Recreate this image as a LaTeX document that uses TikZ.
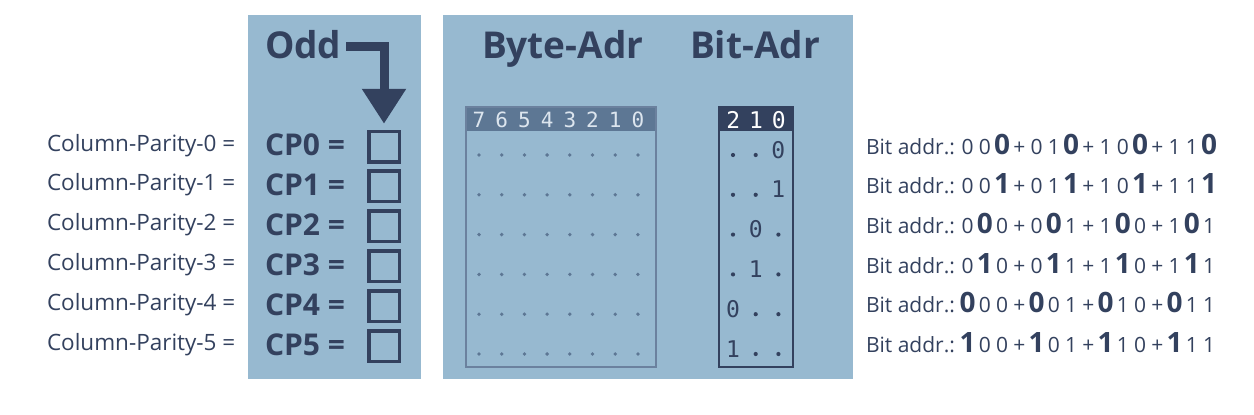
\documentclass[tikz,border=0pt]{standalone}
\usepackage{fontspec}
\setmainfont{Open Sans}
\newfontfamily\monofont{DejaVu Sans Mono}
\usetikzlibrary{arrows.meta}
\definecolor{panel}{HTML}{97B9D0}
\definecolor{navy}{HTML}{33415E}
\definecolor{bytehead}{HTML}{5D7794}
\definecolor{byteline}{HTML}{6B819E}
\definecolor{headtxt}{HTML}{DCE5EE}
\newcommand{\rd}[1]{\makebox[17.25pt]{#1}}
\newcommand{\bd}[1]{\makebox[17.25pt]{\fontsize{28}{28}\selectfont\bfseries #1}}
\begin{document}
\begin{tikzpicture}[x=1pt,y=-1pt,
  every node/.style={inner sep=0pt,outer sep=0pt,text=navy},
  lbl/.style={anchor=base west,font=\fontsize{22.5}{26}\selectfont},
  cplbl/.style={anchor=base west,font=\fontsize{30}{34}\selectfont\bfseries},
  head/.style={anchor=base west,font=\fontsize{37}{40}\selectfont\bfseries},
  cbox/.style={draw=navy,line width=3.5pt,minimum size=30.5pt},
  bitlbl/.style={anchor=base west,font=\fontsize{21}{24}\selectfont},
  monohead/.style={anchor=base,font=\monofont\fontsize{21}{24}\selectfont},
  monodig/.style={anchor=base,font=\monofont\fontsize{23}{26}\selectfont,text=navy}]
\useasboundingbox (0,0) rectangle (1254,415);
\fill[white] (0,0) rectangle (1254,415);
% panels
\fill[panel] (248,15) rectangle (421,379);
\fill[panel] (443,15) rectangle (853,379);
% headings
\node[head] (odd) at (265,58) {Odd};
\node[head] (byteadr) at (482,58) {Byte-Adr};
\node[head] (bitadr) at (690,58) {Bit-Adr};
% rows
\foreach \i in {0,...,5}{
  \node[lbl] (cpl\i) at (47,{151+39.9*\i}) {Column-Parity-\i\ =};
  \node[cplbl] (cp\i) at (265,{155.7+39.9*\i}) {CP\i\ =};
  \node[cbox] (box\i) at (384,{146.5+39.9*\i}) {};
}
% arrow
\draw[navy,line width=9pt,line join=miter,shorten >=7.5pt,-{Triangle[width=42pt,length=35pt]}]
  ([shift={(5,2)}]odd.east) -| (box0.north);
% byte table
\fill[bytehead] (466,107) rectangle (656,131);
\draw[byteline,line width=2pt] (466,107) rectangle (656,367);
\node[monohead,text=headtxt] (bytehdr) at (558.5,127.3) {\makebox[0pt]{\makebox[22.7pt]{7}\makebox[22.7pt]{6}\makebox[22.7pt]{5}\makebox[22.7pt]{4}\makebox[22.7pt]{3}\makebox[22.7pt]{2}\makebox[22.7pt]{1}\makebox[22.7pt]{0}}};
\foreach \r in {0,...,5}{
  \foreach \c in {0,...,7}{
    \fill[bytehead] ({479+22.7*\c},{155+39.8*\r}) circle (1.9pt);
  }
}
% bit table
\fill[navy] (719,107) rectangle (793,131);
\draw[navy,line width=2pt] (719,107) rectangle (793,367);
\node[monodig,text=white] (bithdr) at (756,128) {\makebox[0pt]{\makebox[22.7pt]{2}\makebox[22.7pt]{1}\makebox[22.7pt]{0}}};
% bit rows
\foreach \r/\pos/\d in {0/2/0,1/2/1,2/1/0,3/1/1,4/0/0,5/0/1}{
  \foreach \c in {0,1,2}{
    \ifnum\c=\pos
      \node[monodig] at ({733+22.7*\c},{158+39.8*\r}) {\d};
    \else
      \fill[navy] ({733+22.7*\c},{155+39.8*\r}) circle (2.1pt);
    \fi
  }
}
% bit addr lines
\foreach \i in {0,...,5}{
  \node[bitlbl] (ba\i) at (866,{154+39.7*\i}) {Bit addr.:};
}
\node[bitlbl] (bits0) at (959,154) {\rd{0}\rd{0}\bd{0}\rd{+}\rd{0}\rd{1}\bd{0}\rd{+}\rd{1}\rd{0}\bd{0}\rd{+}\rd{1}\rd{1}\bd{0}};
\node[bitlbl] (bits1) at (959,193.7) {\rd{0}\rd{0}\bd{1}\rd{+}\rd{0}\rd{1}\bd{1}\rd{+}\rd{1}\rd{0}\bd{1}\rd{+}\rd{1}\rd{1}\bd{1}};
\node[bitlbl] (bits2) at (959,233.4) {\rd{0}\bd{0}\rd{0}\rd{+}\rd{0}\bd{0}\rd{1}\rd{+}\rd{1}\bd{0}\rd{0}\rd{+}\rd{1}\bd{0}\rd{1}};
\node[bitlbl] (bits3) at (959,273.1) {\rd{0}\bd{1}\rd{0}\rd{+}\rd{0}\bd{1}\rd{1}\rd{+}\rd{1}\bd{1}\rd{0}\rd{+}\rd{1}\bd{1}\rd{1}};
\node[bitlbl] (bits4) at (959,312.8) {\bd{0}\rd{0}\rd{0}\rd{+}\bd{0}\rd{0}\rd{1}\rd{+}\bd{0}\rd{1}\rd{0}\rd{+}\bd{0}\rd{1}\rd{1}};
\node[bitlbl] (bits5) at (959,352.5) {\bd{1}\rd{0}\rd{0}\rd{+}\bd{1}\rd{0}\rd{1}\rd{+}\bd{1}\rd{1}\rd{0}\rd{+}\bd{1}\rd{1}\rd{1}};
\end{tikzpicture}
\end{document}
